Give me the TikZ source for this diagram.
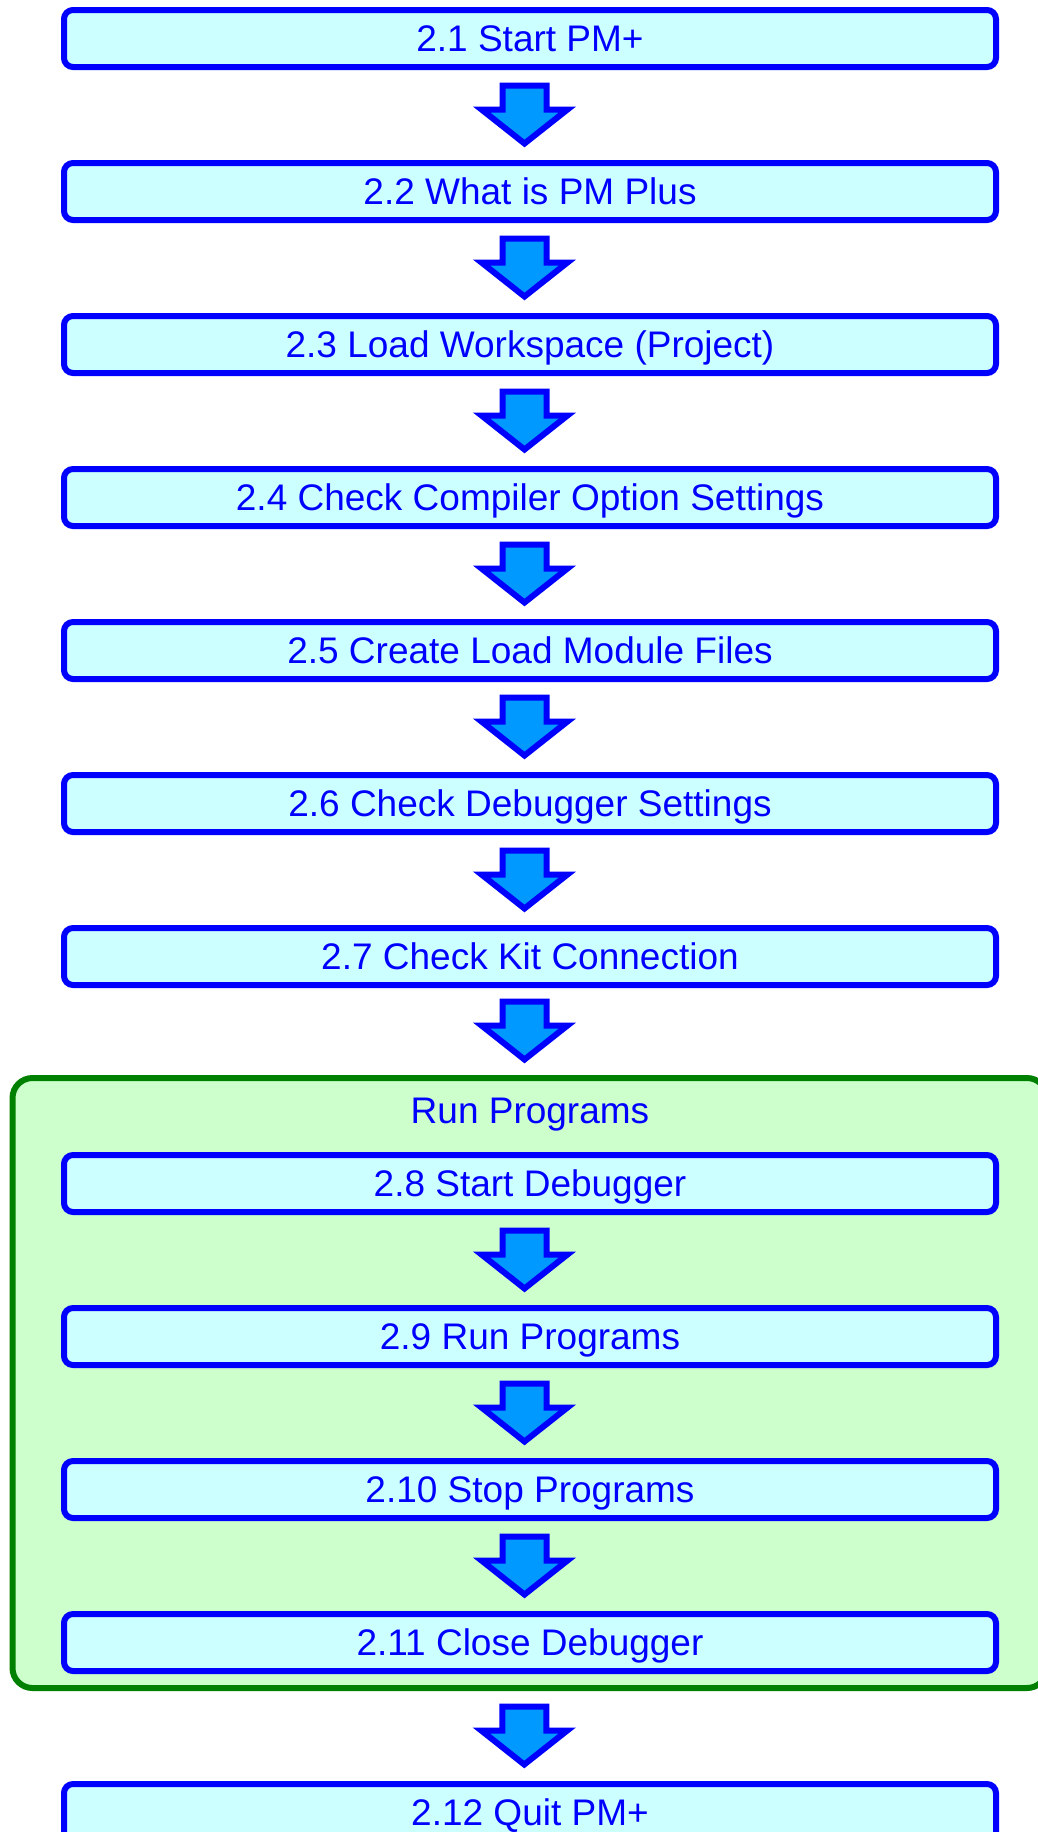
\documentclass[tikz,border=0pt]{standalone}
\usepackage{fontspec}
\setmainfont{Liberation Sans}
\usetikzlibrary{calc,fit,backgrounds}
\definecolor{stepblue}{RGB}{0,0,255}
\definecolor{stepfill}{RGB}{204,255,255}
\definecolor{runfill}{RGB}{204,255,204}
\definecolor{rungreen}{RGB}{0,128,0}
\definecolor{arrowfill}{RGB}{0,153,255}
\tikzset{
  stepbox/.style={draw=stepblue, fill=stepfill, line width=6pt, rounded corners=9pt,
    minimum width=932pt, minimum height=57pt, inner sep=0pt, outer sep=0pt,
    text=stepblue, font=\fontsize{37}{44}\selectfont, text height=26pt, text depth=0pt},
  runframe/.style={draw=rungreen, fill=runfill, line width=6pt, rounded corners=20pt,
    inner sep=0pt, outer sep=0pt},
  pics/downarrow/.style={code={
    \draw[draw=stepblue, fill=arrowfill, line width=6pt, line join=miter]
      (-22,0) -- (22,0) -- (22,24) -- (43,24) -- (0,58) -- (-43,24) -- (-22,24) -- cycle;
  }}
}
\begin{document}
\begin{tikzpicture}[x=1pt,y=-1pt]
        \useasboundingbox (0,0) rectangle (1038,1832);
        % steps before debugging
        \node[stepbox] (s1) at (530,38.5) {2.1 Start PM+};
        \node[stepbox] (s2) at (530,191.5) {2.2 What is PM Plus};
        \node[stepbox] (s3) at (530,344.5) {2.3 Load Workspace (Project)};
        \node[stepbox] (s4) at (530,497.5) {2.4 Check Compiler Option Settings};
        \node[stepbox] (s5) at (530,650.5) {2.5 Create Load Module Files};
        \node[stepbox] (s6) at (530,803.5) {2.6 Check Debugger Settings};
        \node[stepbox] (s7) at (530,956.5) {2.7 Check Kit Connection};
        % debugging steps
        \node[stepbox] (s8) at (530,1183.5) {2.8 Start Debugger};
        \node[stepbox] (s9) at (530,1336.5) {2.9 Run Programs};
        \node[stepbox] (s10) at (530,1489.5) {2.10 Stop Programs};
        \node[stepbox] (s11) at (530,1642.5) {2.11 Close Debugger};
        \node[stepbox] (s12) at (530,1812.5) {2.12 Quit PM+};
        % frame round the debugging steps
        \begin{scope}[on background layer]
          \coordinate (runtl) at (12.5,1078);
          \coordinate (runbr) at (1047,1688);
          \node[runframe, fit=(runtl)(runbr)] (run) {};
        \end{scope}
        \node[anchor=base, text=stepblue, font=\fontsize{37}{44}\selectfont] (runtitle) at (530,1123) {Run Programs};
        % arrows
        \pic at ($(s1.south)+(-5.5,18.5)$) {downarrow};
        \pic at ($(s2.south)+(-5.5,18.5)$) {downarrow};
        \pic at ($(s3.south)+(-5.5,18.5)$) {downarrow};
        \pic at ($(s4.south)+(-5.5,18.5)$) {downarrow};
        \pic at ($(s5.south)+(-5.5,18.5)$) {downarrow};
        \pic at ($(s6.south)+(-5.5,18.5)$) {downarrow};
        \pic at ($(s7.south)+(-5.5,16.5)$) {downarrow};
        \pic at ($(s8.south)+(-5.5,18.5)$) {downarrow};
        \pic at ($(s9.south)+(-5.5,18.5)$) {downarrow};
        \pic at ($(s10.south)+(-5.5,18.5)$) {downarrow};
        \pic at ($(run.south)+(-5.5,18.5)$) {downarrow};
\end{tikzpicture}
\end{document}
